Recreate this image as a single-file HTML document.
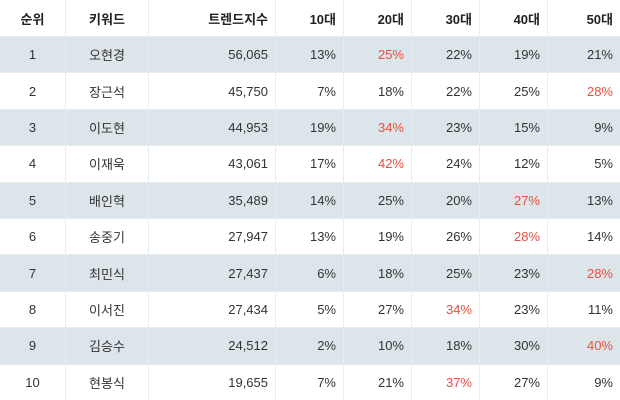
<!DOCTYPE html>
<html><head><meta charset="utf-8"><style>
body{margin:0;width:620px;height:400px;overflow:hidden;background:#fff;font-family:"Liberation Sans","Noto Sans CJK KR",sans-serif;}
.t{width:620px;font-size:13px;color:#333;}
.row{display:flex;height:36.4px;box-sizing:border-box;border-top:1px solid #e6ecef;align-items:stretch;}
.row.h{height:36px;border-top:none;font-weight:bold;color:#222;}
.row.s{background:#dce5e9;}
.cell{display:flex;align-items:center;padding:0 7px;box-sizing:border-box;border-left:1px solid #e6ecef;white-space:nowrap;}
.cell:first-child{border-left:none;}
.c{justify-content:center}.r{justify-content:flex-end}
.hi{color:#e8503f}
</style></head><body>
<div class="t" id="t">
<div class="row h">
<div class="cell c" style="width:65px">순위</div>
<div class="cell c" style="width:83px">키워드</div>
<div class="cell r" style="width:127px">트렌드지수</div>
<div class="cell r" style="width:68px">10대</div>
<div class="cell r" style="width:68px">20대</div>
<div class="cell r" style="width:68px">30대</div>
<div class="cell r" style="width:68px">40대</div>
<div class="cell r" style="width:73px">50대</div>
</div>
</div>
<script>
const ranks=[1,2,3,4,5,6,7,8,9,10];
const keywords=["오현경","장근석","이도현","이재욱","배인혁","송중기","최민식","이서진","김승수","현봉식"];
const trendIndex=["56,065","45,750","44,953","43,061","35,489","27,947","27,437","27,434","24,512","19,655"];
const age10=[13,7,19,17,14,13,6,5,2,7];
const age20=[25,18,34,42,25,19,18,27,10,21];
const age30=[22,22,23,24,20,26,25,34,18,37];
const age40=[19,25,15,12,27,28,23,23,30,27];
const age50=[21,28,9,5,13,14,28,11,40,9];
const widths=[68,68,68,68,73];
const t=document.getElementById('t');
ranks.forEach((r,i)=>{
  const row=document.createElement('div');
  row.className='row'+(i%2===0?' s':'');
  
  
  const ages=[age10[i],age20[i],age30[i],age40[i],age50[i]];
  const mx=Math.max(...ages);
  let h='<div class="cell c" style="width:65px">'+r+'</div>'+
    '<div class="cell c" style="width:83px">'+keywords[i]+'</div>'+
    '<div class="cell r" style="width:127px">'+trendIndex[i]+'</div>';
  ages.forEach((v,j)=>{
    h+='<div class="cell r'+(v===mx?' hi':'')+'" style="width:'+widths[j]+'px">'+v+'%</div>';
  });
  row.innerHTML=h;
  t.appendChild(row);
});
</script>
</body></html>
